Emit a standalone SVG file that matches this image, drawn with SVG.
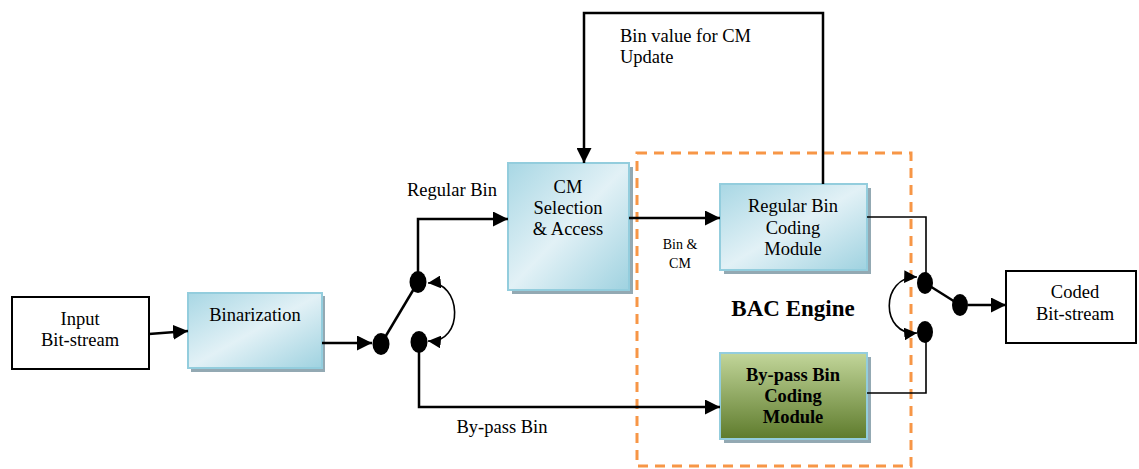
<svg xmlns="http://www.w3.org/2000/svg" width="1139" height="469" viewBox="0 0 1139 469">
  <defs>
    <linearGradient id="blueFill" x1="0" y1="0" x2="1" y2="1">
      <stop offset="0" stop-color="#A8D7E4"/>
      <stop offset="0.5" stop-color="#E2F1F6"/>
      <stop offset="1" stop-color="#9FD2E0"/>
    </linearGradient>
    <linearGradient id="greenFill" x1="0" y1="0" x2="0" y2="1">
      <stop offset="0" stop-color="#C2D69A"/>
      <stop offset="1" stop-color="#5E7B2C"/>
    </linearGradient>
    <marker id="arrow" viewBox="0 0 10 10" refX="10" refY="5" markerWidth="6" markerHeight="6" markerUnits="strokeWidth" orient="auto">
      <path d="M0,0 L10,5 L0,10 z" fill="#000"/>
    </marker>
    <marker id="arrowThin" viewBox="0 0 10 10" refX="10" refY="5" markerWidth="8" markerHeight="8" markerUnits="strokeWidth" orient="auto-start-reverse">
      <path d="M0,0 L10,5 L0,10 z" fill="#000"/>
    </marker>
  </defs>
  <style>
    text { font-family: "Liberation Serif", "Times New Roman", Times, "DejaVu Serif", serif; font-size: 18.5px; fill: #000; }
    .small { font-size: 14px; }
    .bold { font-weight: bold; }
    .title { font-weight: bold; font-size: 23px; }
    .plain { fill: #fff; stroke: #000; stroke-width: 2; }
    .blue { fill: url(#blueFill); stroke: #93CDDD; stroke-width: 2; }
    .green { fill: url(#greenFill); stroke: #93CDDD; stroke-width: 2; }
    .shadow { fill: #93A9B3; }
    .line { fill: none; stroke: #000; stroke-width: 2.5; }
    .thin { fill: none; stroke: #000; stroke-width: 1.6; }
    .dot { fill: #000; }
    .engine { fill: none; stroke: #F79646; stroke-width: 3; stroke-dasharray: 10 7; }
  </style>

  <!-- BAC engine boundary -->
  <rect class="engine" x="637" y="153" width="274" height="313"/>

  <g id="input">
    <rect class="plain" x="12" y="297" width="137" height="72"/>
    <text x="80" y="325" text-anchor="middle">Input</text>
    <text x="80" y="346" text-anchor="middle">Bit-stream</text>
  </g>

  <g id="binarization">
    <rect class="shadow" x="191" y="296" width="134" height="76"/>
    <rect class="blue" x="188" y="293" width="134" height="75"/>
    <text x="255" y="321" text-anchor="middle">Binarization</text>
  </g>

  <g id="cm-selection">
    <rect class="shadow" x="512" y="167" width="121" height="127"/>
    <rect class="blue" x="508" y="163" width="121" height="127"/>
    <text x="568" y="193" text-anchor="middle">CM</text>
    <text x="568" y="214" text-anchor="middle">Selection</text>
    <text x="568" y="235" text-anchor="middle">&amp; Access</text>
  </g>

  <g id="regular-bin">
    <rect class="shadow" x="724" y="188" width="147" height="86"/>
    <rect class="blue" x="720" y="184" width="147" height="86"/>
    <text x="793" y="212" text-anchor="middle">Regular Bin</text>
    <text x="793" y="234" text-anchor="middle">Coding</text>
    <text x="793" y="255" text-anchor="middle">Module</text>
  </g>

  <g id="bypass-bin">
    <rect class="shadow" x="724" y="357" width="147" height="86"/>
    <rect class="green" x="720" y="353" width="147" height="86"/>
    <text class="bold" x="793" y="381" text-anchor="middle">By-pass Bin</text>
    <text class="bold" x="793" y="402" text-anchor="middle">Coding</text>
    <text class="bold" x="793" y="423" text-anchor="middle">Module</text>
  </g>

  <g id="output">
    <rect class="plain" x="1006" y="271" width="130" height="72"/>
    <text x="1075" y="298" text-anchor="middle">Coded</text>
    <text x="1075" y="320" text-anchor="middle">Bit-stream</text>
  </g>

  <g id="labels">
    <text x="452" y="196" text-anchor="middle">Regular Bin</text>
    <text x="502" y="433" text-anchor="middle">By-pass Bin</text>
    <text class="small" x="680" y="249" text-anchor="middle">Bin &amp;</text>
    <text class="small" x="680" y="268" text-anchor="middle">CM</text>
    <text x="620" y="42">Bin value for CM</text>
    <text x="620" y="63">Update</text>
    <text class="title" x="793" y="316" text-anchor="middle">BAC Engine</text>
  </g>

  <g id="connectors">
    <!-- input to binarization -->
    <line class="line" x1="149" y1="334" x2="188" y2="331" marker-end="url(#arrow)"/>
    <!-- binarization to switch -->
    <line class="line" x1="322" y1="343" x2="372" y2="343" marker-end="url(#arrow)"/>
    <!-- input switch -->
    <ellipse class="dot" cx="381" cy="344" rx="8.5" ry="11"/>
    <ellipse class="dot" cx="418" cy="282" rx="8.5" ry="11"/>
    <ellipse class="dot" cx="419" cy="342" rx="8.5" ry="11"/>
    <line class="line" x1="381" y1="344" x2="418" y2="282"/>
    <path class="thin" d="M428,283 C462,280 465,344 428,341" marker-start="url(#arrowThin)" marker-end="url(#arrowThin)"/>
    <!-- regular path -->
    <polyline class="line" points="418,282 418,219 508,219" marker-end="url(#arrow)"/>
    <!-- bypass path -->
    <polyline class="line" points="419,342 419,407 720,407" marker-end="url(#arrow)"/>
    <!-- CM selection to regular coder -->
    <line class="line" x1="629" y1="218" x2="720" y2="218" marker-end="url(#arrow)"/>
    <!-- feedback for CM update -->
    <polyline class="line" points="823,184 823,13 584,13 584,163" marker-end="url(#arrow)"/>
    <!-- coder outputs -->
    <polyline class="thin" points="867,217 926,217 926,283"/>
    <polyline class="thin" points="867,393 926,393 926,332"/>
    <!-- output switch -->
    <ellipse class="dot" cx="925" cy="283" rx="8" ry="11"/>
    <ellipse class="dot" cx="925" cy="332" rx="8" ry="11"/>
    <ellipse class="dot" cx="960" cy="305" rx="8" ry="11"/>
    <line class="line" x1="925" y1="283" x2="960" y2="305"/>
    <path class="thin" d="M917,277 C880,276 880,336 917,333" marker-start="url(#arrowThin)" marker-end="url(#arrowThin)"/>
    <line class="line" x1="968" y1="305" x2="1006" y2="305" marker-end="url(#arrow)"/>
  </g>
</svg>
